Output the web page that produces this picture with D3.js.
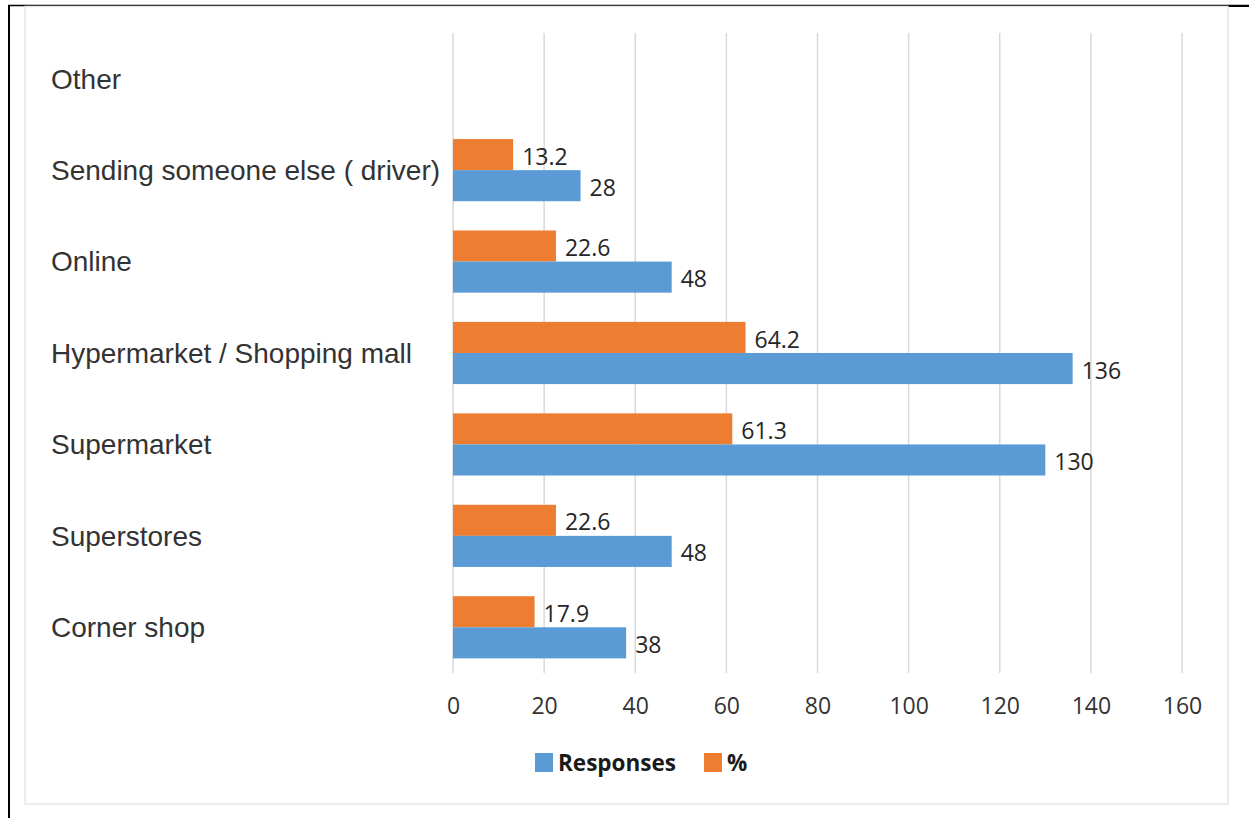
<!DOCTYPE html>
<html>
<head>
<meta charset="utf-8">
<script src="https://cdn.jsdelivr.net/npm/d3@7"></script>
<style>
  html, body { margin: 0; padding: 0; background: #fff; }
  svg { display: block; }
</style>
</head>
<body>
<div id="chart"></div>
<script>
// Categories listed top to bottom
const categories = [
  "Other",
  "Sending someone else ( driver)",
  "Online",
  "Hypermarket / Shopping mall",
  "Supermarket",
  "Superstores",
  "Corner shop"
];
const responses = [null, 28, 48, 136, 130, 48, 38];
const percent = [null, 13.2, 22.6, 64.2, 61.3, 22.6, 17.9];
const xTicks = [0, 20, 40, 60, 80, 100, 120, 140, 160];
const seriesNames = ["Responses", "%"];
const seriesColors = ["#5B9BD5", "#ED7D31"];

const W = 1249, H = 818;
const svg = d3.select("#chart").append("svg").attr("width", W).attr("height", H);

// Outer frame lines
svg.append("line").attr("x1", 8).attr("x2", W).attr("y1", 5.5).attr("y2", 5.5)
  .attr("stroke", "#000").attr("stroke-width", 1.5);
svg.append("line").attr("x1", 1228).attr("x2", W).attr("y1", 6).attr("y2", 6)
  .attr("stroke", "#000").attr("stroke-width", 2);
svg.append("line").attr("x1", 9).attr("x2", 9).attr("y1", 5).attr("y2", H)
  .attr("stroke", "#000").attr("stroke-width", 2);
// Chart area border
svg.append("rect").attr("x", 25).attr("y", 6.5).attr("width", 1203).attr("height", 797.5)
  .attr("fill", "none").attr("stroke", "#e6e6e6").attr("stroke-width", 1.5);

const plot = { left: 453, right: 1182, top: 33, bottom: 673 };

const x = d3.scaleLinear().domain([0, 160]).range([plot.left, plot.right]);
const y = d3.scaleBand().domain(categories).range([plot.top, plot.bottom])
  .paddingInner(0.32).paddingOuter(0.16);

// Vertical gridlines
svg.append("g").selectAll("line").data(xTicks).join("line")
  .attr("x1", d => x(d)).attr("x2", d => x(d))
  .attr("y1", plot.top).attr("y2", plot.bottom)
  .attr("stroke", "#d9d9d9").attr("stroke-width", 1.5);

// X axis tick labels
const xAxis = d3.axisBottom(x).tickValues(xTicks).tickSize(0).tickPadding(0);
const gx = svg.append("g").attr("transform", `translate(0, ${plot.bottom})`).call(xAxis);
gx.select(".domain").remove();
gx.selectAll("text")
  .attr("dy", null).attr("y", 41)
  .style("font-family", "'Open Sans', sans-serif").style("font-size", "23px")
  .attr("fill", "#333");

// Category labels on the left
svg.append("g").selectAll("text").data(categories).join("text")
  .attr("x", 51)
  .attr("y", d => y(d) + y.bandwidth() / 2)
  .attr("dy", "0.35em")
  .style("font-family", "'Liberation Sans', Arial, sans-serif")
  .style("font-size", "28px")
  .attr("fill", "#333")
  .text(d => d);

// Bars: % on the top half of each band, Responses on the bottom half
const sub = d3.scaleBand().domain(["%", "Responses"]).range([0, y.bandwidth()]);
const rows = categories.map((c, i) => ({ c, r: responses[i], p: percent[i] }));

const series = [
  { key: "%", color: seriesColors[1], get: d => d.p },
  { key: "Responses", color: seriesColors[0], get: d => d.r }
];

series.forEach(s => {
  const data = rows.filter(d => s.get(d) != null);
  svg.append("g").selectAll("rect").data(data).join("rect")
    .attr("x", x(0))
    .attr("y", d => y(d.c) + sub(s.key))
    .attr("width", d => x(s.get(d)) - x(0))
    .attr("height", sub.bandwidth())
    .attr("fill", s.color);
  svg.append("g").selectAll("text").data(data).join("text")
    .attr("x", d => x(s.get(d)) + 9)
    .attr("y", d => y(d.c) + sub(s.key) + sub.bandwidth() / 2 + 2)
    .attr("dy", "0.35em")
    .style("font-family", "'Open Sans', sans-serif")
    .style("font-size", "23px")
    .attr("fill", "#262626")
    .text(d => s.get(d));
});

// Legend
const legend = svg.append("g");
const legendItems = [
  { name: seriesNames[0], color: seriesColors[0], x: 535 },
  { name: seriesNames[1], color: seriesColors[1], x: 704 }
];
legendItems.forEach(it => {
  legend.append("rect").attr("x", it.x).attr("y", 753).attr("width", 18).attr("height", 19)
    .attr("fill", it.color);
  legend.append("text").attr("x", it.x + 23).attr("y", 763).attr("dy", "0.35em")
    .style("font-family", "'Open Sans', sans-serif").style("font-size", "22.5px")
    .style("font-weight", "bold").attr("fill", "#1a1a1a")
    .text(it.name);
});
</script>
</body>
</html>
